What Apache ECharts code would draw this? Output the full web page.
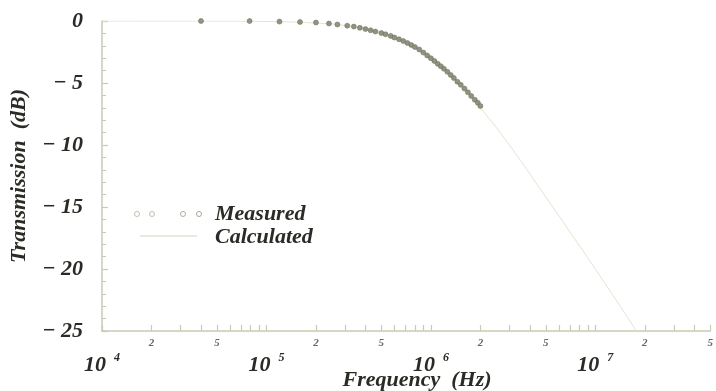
<!DOCTYPE html>
<html><head><meta charset="utf-8">
<script src="https://cdn.jsdelivr.net/npm/echarts@6/dist/echarts.min.js"></script>
<style>html,body{margin:0;padding:0;background:#fff}#c{width:716px;height:391px}</style>
</head><body><div id="c"></div>
<script>
// Measured: frequency (Hz), transmission (dB)
const measuredFreq = [4.0e4,7.9e4,1.2e5,1.6e5,2.0e5,2.4e5,2.7e5,3.1e5,3.4e5,3.7e5,4.0e5,4.3e5,4.6e5,5.0e5,5.3e5,5.7e5,6.0e5,6.4e5,6.8e5,7.2e5,7.6e5,8.0e5,8.5e5,9.0e5,9.5e5,1.0e6,1.05e6,1.1e6,1.15e6,1.2e6,1.26e6,1.32e6,1.38e6,1.45e6,1.52e6,1.6e6,1.68e6,1.76e6,1.85e6,1.93e6,2.0e6];
const measuredDb = [0,0,-0.05,-0.08,-0.12,-0.2,-0.28,-0.38,-0.45,-0.55,-0.65,-0.75,-0.85,-0.97,-1.07,-1.2,-1.33,-1.47,-1.62,-1.77,-1.93,-2.1,-2.3,-2.55,-2.78,-3.0,-3.22,-3.45,-3.65,-3.85,-4.1,-4.35,-4.6,-4.9,-5.15,-5.45,-5.75,-6.05,-6.35,-6.6,-6.85];
// Calculated curve
const calcFreq = [1e4,5e4,1e5,2e5,3e5,5e5,7e5,1e6,1.5e6,2e6,3e6,5e6,7e6,1e7,1.4e7,1.78e7];
const calcDb = [0,-0.01,-0.04,-0.17,-0.37,-0.97,-1.74,-3.0,-5.1,-7.0,-10.0,-14.2,-17.0,-20.0,-22.9,-25.0];
// Axis tick labels
const yTicks = [0,-5,-10,-15,-20,-25];
const decadeExponents = [4,5,6,7];
const minorMultipliers = [2,5];
const tickMultipliers = [2,3,4,5,6,7,8,9];

const serif = '"Liberation Serif","DejaVu Serif",serif';
const ink = '#2b2b26';
const axisCol = '#c9cab4';

const logMin = 4, logMax = Math.log10(5e7);
const tickVals = [], minorLabelVals = [], minorLabelText = {};
for (let e = 4; e <= 7; e++) {
  tickVals.push(e);
  tickMultipliers.forEach(m => { const v = e + Math.log10(m); if (v <= logMax + 1e-9) tickVals.push(v); });
  minorMultipliers.forEach(m => { const v = e + Math.log10(m); if (v <= logMax + 1e-9) { minorLabelVals.push(v); minorLabelText[v.toFixed(3)] = String(m); } });
}

const chart = echarts.init(document.getElementById('c'));
chart.setOption({
  animation: false,
  backgroundColor: '#fff',
  grid: {left: 98, right: 4, top: 21, bottom: 60},
  xAxis: [
    {type: 'log', logBase: 10, min: 1e4, max: 5e7, show: false, gridIndex: 0},
    {type: 'value', min: logMin, max: logMax, position: 'bottom', gridIndex: 0,
     axisLine: {show: true, onZero: false, lineStyle: {color: axisCol, width: 1.5}},
     splitLine: {show: false},
     axisTick: {show: true, inside: true, length: 6, customValues: tickVals, lineStyle: {color: axisCol, width: 1.2}},
     axisLabel: {show: true, customValues: minorLabelVals, margin: 7, fontFamily: serif, fontStyle: 'italic', fontWeight: 'bold', fontSize: 11, color: '#666',
       formatter: v => minorLabelText[v.toFixed(3)] || ''}},
    {type: 'value', min: logMin, max: logMax, position: 'bottom', gridIndex: 0,
     axisLine: {show: false}, axisTick: {show: false}, splitLine: {show: false},
     axisLabel: {show: true, customValues: decadeExponents, margin: 21, fontFamily: serif, fontStyle: 'italic', fontWeight: 'bold', fontSize: 21, color: ink,
       formatter: v => '{b|10}{s|' + v + '}',
       rich: {b: {fontFamily: serif, fontStyle: 'italic', fontWeight: 'bold', fontSize: 22, color: ink, padding: [0, 4, 0, 0]},
              s: {fontFamily: serif, fontStyle: 'italic', fontWeight: 'bold', fontSize: 12, color: ink, padding: [0, 0, 14, 4]}}}}
  ],
  yAxis: {type: 'value', min: -25, max: 0, interval: 5,
    axisLine: {show: true, lineStyle: {color: axisCol, width: 1.5}},
    axisTick: {show: true, inside: true, length: 6, lineStyle: {color: axisCol, width: 1.2}},
    minorTick: {show: true, splitNumber: 5, length: 4, lineStyle: {color: axisCol, width: 1}},
    splitLine: {show: false},
    axisLabel: {margin: 19, fontFamily: serif, fontStyle: 'italic', fontWeight: 'bold', fontSize: 22, color: ink,
      formatter: v => (v < 0 ? '− ' + Math.abs(v) : String(v))},
    name: 'Transmission  (dB)', nameLocation: 'middle', nameGap: 72, nameRotate: 90,
    nameTextStyle: {fontFamily: serif, fontStyle: 'italic', fontWeight: 'bold', fontSize: 22, color: ink}
  },
  graphic: [
    {type: 'circle', shape: {cx: 137, cy: 214, r: 2.5}, style: {fill: 'none', stroke: '#c0c0b0', lineWidth: 1}},
    {type: 'circle', shape: {cx: 152, cy: 214, r: 2.5}, style: {fill: 'none', stroke: '#c0c0b0', lineWidth: 1}},
    {type: 'circle', shape: {cx: 183, cy: 214, r: 2.5}, style: {fill: 'none', stroke: '#b0b0a0', lineWidth: 1}},
    {type: 'circle', shape: {cx: 199, cy: 214, r: 2.5}, style: {fill: 'none', stroke: '#a8a898', lineWidth: 1}},
    {type: 'line', shape: {x1: 140, y1: 236, x2: 197, y2: 236}, style: {stroke: '#d4d4c2', lineWidth: 1.2}},
    {type: 'text', x: 215, y: 214, style: {text: 'Measured', font: 'italic bold 22px ' + serif, fill: ink, verticalAlign: 'middle'}},
    {type: 'text', x: 215, y: 237, style: {text: 'Calculated', font: 'italic bold 22px ' + serif, fill: ink, verticalAlign: 'middle'}},
    {type: 'text', x: 417, y: 380, style: {text: 'Frequency  (Hz)', font: 'italic bold 22px ' + serif, fill: ink, align: 'center', verticalAlign: 'middle'}}
  ],
  series: [
    {name: 'Calculated', type: 'line', xAxisIndex: 0, data: calcFreq.map((f, i) => [f, calcDb[i]]),
     showSymbol: false, smooth: true, lineStyle: {color: '#e3e3cf', width: 1}, z: 1},
    {name: 'Measured', type: 'scatter', xAxisIndex: 0, data: measuredFreq.map((f, i) => [f, measuredDb[i]]),
     symbol: 'circle', symbolSize: 5, itemStyle: {color: '#858872', borderColor: '#6f725f', borderWidth: 0.6, opacity: 0.9}, z: 3}
  ]
});
</script></body></html>
